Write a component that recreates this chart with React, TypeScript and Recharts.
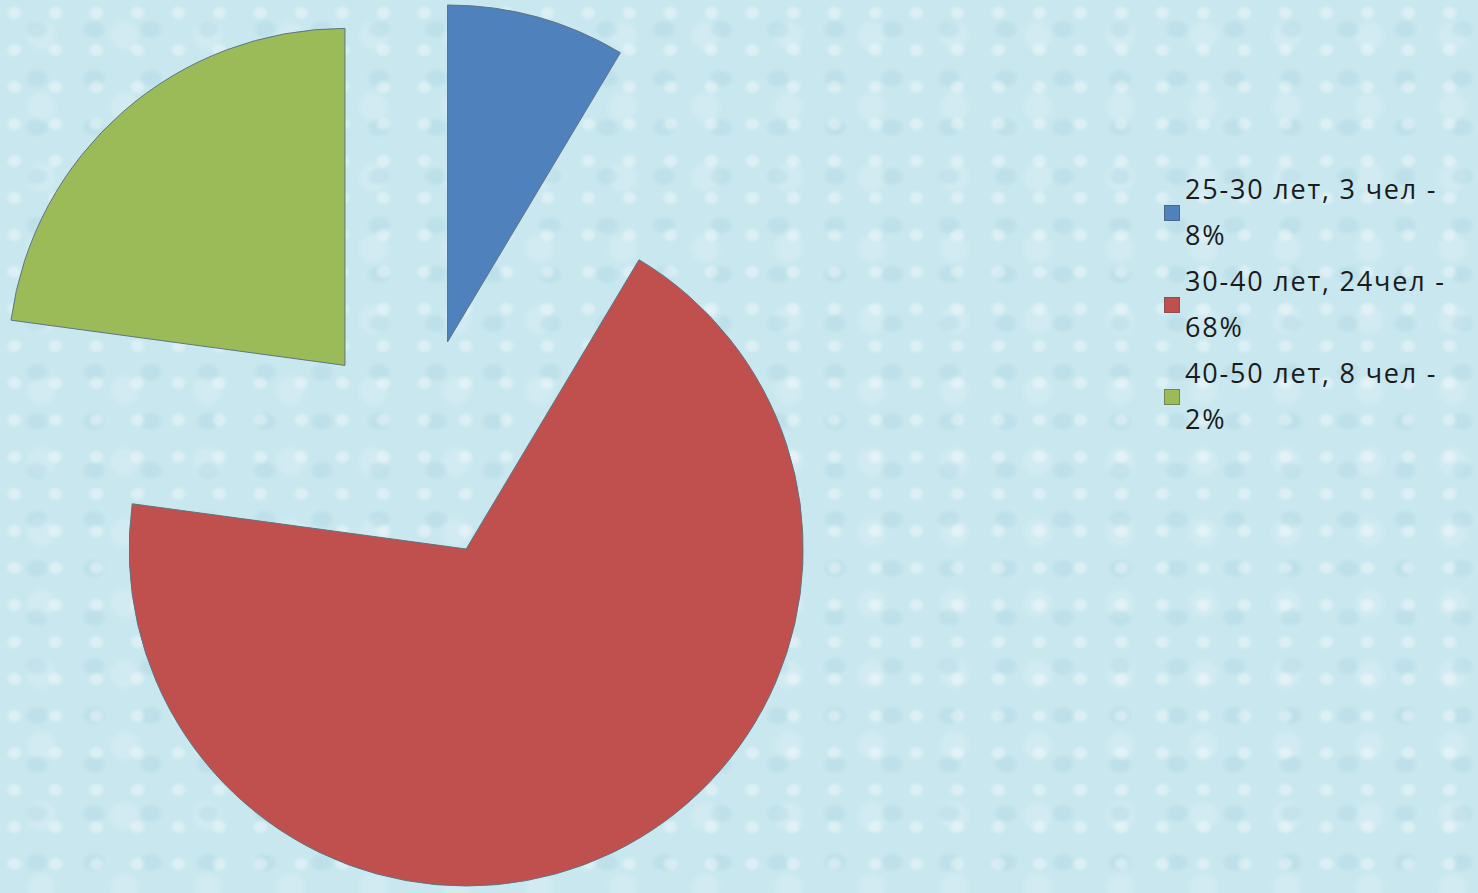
import { PieChart, Pie, Cell, Legend } from 'recharts';

const categories = ['25-30 лет, 3 чел -', '30-40 лет, 24чел -', '40-50 лет, 8 чел -'];
const percentLabels = ['8%', '68%', '2%'];
const people = [3, 24, 8];
const colors = ['#4f81bd', '#c0504d', '#9bbb59'];

const data = categories.map((name, i) => ({ name, value: people[i] }));

const W = 1478;
const H = 893;
const CX = 418;
const CY = 449;
const RADIUS = 337;
const EXPLODE = 111;

// mid angle (clockwise from 12 o'clock) of each slice, in degrees
const total = people.reduce((a, b) => a + b, 0);
const midAngles = people.map((v, i) => {
  const before = people.slice(0, i).reduce((a, b) => a + b, 0);
  return ((before + v / 2) / total) * 360;
});

// rough stand-in for the water-drop texture
const bg = {
  backgroundColor: '#c8e7ef',
  backgroundImage:
    'radial-gradient(ellipse at 35% 35%, rgba(255,255,255,0.35) 0 4px, transparent 9px),' +
    'radial-gradient(ellipse at 65% 60%, rgba(150,200,214,0.22) 0 7px, transparent 13px),' +
    'radial-gradient(circle at 50% 50%, rgba(255,255,255,0.18) 0 10px, transparent 18px)',
  backgroundSize: '41px 37px, 57px 49px, 83px 71px',
};

function LegendBox() {
  return (
    <div
      style={{
        fontFamily: '"Open Sans", sans-serif',
        fontSize: 27,
        letterSpacing: 1.8,
        color: '#1b1b1b',
      }}
    >
      {categories.map((c, i) => (
        <div key={c} style={{ position: 'relative', paddingLeft: 25, lineHeight: '46px' }}>
          <span
            style={{
              position: 'absolute',
              left: 4,
              top: 39,
              width: 14,
              height: 14,
              background: colors[i],
              border: '1px solid rgba(80,80,80,0.5)',
            }}
          />
          <div style={{ whiteSpace: 'nowrap' }}>{c}</div>
          <div>{percentLabels[i]}</div>
        </div>
      ))}
    </div>
  );
}

export default function App() {
  return (
    <div style={{ position: 'fixed', left: 0, top: 0, width: W, height: H, ...bg }}>
      <PieChart width={W} height={H} margin={{ top: 0, right: 0, bottom: 0, left: 0 }}>
        {colors.map((col, k) => {
          const a = (midAngles[k] * Math.PI) / 180;
          return (
            <Pie
              key={k}
              data={data}
              dataKey="value"
              nameKey="name"
              cx={CX + EXPLODE * Math.sin(a)}
              cy={CY - EXPLODE * Math.cos(a)}
              outerRadius={RADIUS}
              startAngle={90}
              endAngle={-270}
              isAnimationActive={false}
              legendType="none"
            >
              {data.map((d, i) => (
                <Cell
                  key={d.name}
                  fill={i === k ? col : 'transparent'}
                  stroke={i === k ? '#5f7480' : 'none'}
                  strokeWidth={1}
                />
              ))}
            </Pie>
          );
        })}
        <Legend
          layout="vertical"
          content={() => <LegendBox />}
          wrapperStyle={{ left: 1160, top: 166, width: 318 }}
        />
      </PieChart>
    </div>
  );
}
